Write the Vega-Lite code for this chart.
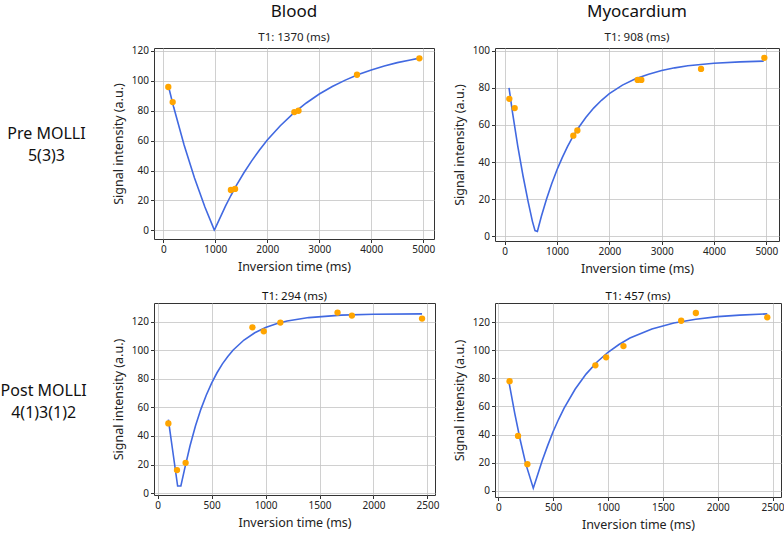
{
  "$schema": "https://vega.github.io/schema/vega-lite/v6.json",
  "padding": {"left": 0, "top": 2, "right": 0, "bottom": 0},
  "config": {
    "font": "Noto Sans",
    "view": {"stroke": "#333333", "strokeWidth": 1},
    "axis": {
      "grid": true, "gridColor": "#c4c4c4", "gridWidth": 0.8, "gridOpacity": 1, "tickCount": 12,
      "domain": false, "tickColor": "#333333", "tickSize": 3.5, "labelOverlap": false, "format": "d",
      "labelFontSize": 10, "labelColor": "#222222", "labelPadding": 2,
      "titleFontSize": 12.5, "titleFontWeight": "normal", "titleColor": "#222222"
    },
    "title": {"fontWeight": "normal", "color": "#111111", "subtitleColor": "#222222", "frame": "group", "anchor": "middle"},
    "concat": {"spacing": 14}
  },
  "datasets": {
    "p1pts": [
      {"t": 96, "s": 95.9}, {"t": 180, "s": 85.8}, {"t": 1300, "s": 27.0}, {"t": 1380, "s": 27.7},
      {"t": 2520, "s": 79.1}, {"t": 2600, "s": 80.0}, {"t": 3725, "s": 104.1}, {"t": 4925, "s": 115.1}
    ],
    "p1fit": [
      {"t": 100, "s": 96.2}, {"t": 200, "s": 82.3}, {"t": 400, "s": 57.1}, {"t": 600, "s": 35.0},
      {"t": 800, "s": 15.6}, {"t": 980, "s": 0.3}, {"t": 1000, "s": 1.5}, {"t": 1200, "s": 16.5},
      {"t": 1300, "s": 23.3}, {"t": 1400, "s": 29.7}, {"t": 1550, "s": 38.5}, {"t": 1700, "s": 46.5},
      {"t": 1850, "s": 53.7}, {"t": 2000, "s": 60.4}, {"t": 2250, "s": 70.0}, {"t": 2500, "s": 78.3},
      {"t": 2750, "s": 85.2}, {"t": 3000, "s": 91.2}, {"t": 3250, "s": 96.2}, {"t": 3500, "s": 100.5},
      {"t": 3750, "s": 104.2}, {"t": 4000, "s": 107.3}, {"t": 4250, "s": 110.0}, {"t": 4500, "s": 112.2},
      {"t": 4750, "s": 114.0}, {"t": 4950, "s": 115.4}
    ],
    "p2pts": [
      {"t": 89, "s": 74.1}, {"t": 191, "s": 69.1}, {"t": 1312, "s": 54.2}, {"t": 1389, "s": 57.0},
      {"t": 2541, "s": 84.3}, {"t": 2611, "s": 84.3}, {"t": 3752, "s": 90.2}, {"t": 4962, "s": 96.2}
    ],
    "p2fit": [
      {"t": 83, "s": 80.0}, {"t": 150, "s": 66.6}, {"t": 250, "s": 48.6}, {"t": 350, "s": 32.6},
      {"t": 450, "s": 18.4}, {"t": 530, "s": 8.0}, {"t": 580, "s": 3.0}, {"t": 625, "s": 2.5},
      {"t": 700, "s": 10.6}, {"t": 800, "s": 20.0}, {"t": 900, "s": 28.4}, {"t": 1000, "s": 35.8},
      {"t": 1100, "s": 42.4}, {"t": 1200, "s": 48.3}, {"t": 1300, "s": 53.5}, {"t": 1400, "s": 58.1},
      {"t": 1550, "s": 64.0}, {"t": 1700, "s": 69.1}, {"t": 1850, "s": 73.3}, {"t": 2000, "s": 76.9},
      {"t": 2250, "s": 81.5}, {"t": 2500, "s": 84.9}, {"t": 2750, "s": 87.4}, {"t": 3000, "s": 89.4},
      {"t": 3250, "s": 90.8}, {"t": 3500, "s": 91.9}, {"t": 4000, "s": 93.3}, {"t": 4500, "s": 94.0},
      {"t": 4950, "s": 94.4}
    ],
    "p3pts": [
      {"t": 99, "s": 48.8}, {"t": 179, "s": 16.1}, {"t": 259, "s": 21.2}, {"t": 878, "s": 116.0},
      {"t": 983, "s": 113.2}, {"t": 1137, "s": 119.3}, {"t": 1667, "s": 126.3}, {"t": 1800, "s": 124.2},
      {"t": 2450, "s": 122.1}
    ],
    "p3fit": [
      {"t": 99, "s": 51.5}, {"t": 140, "s": 29.3}, {"t": 185, "s": 5.0}, {"t": 215, "s": 5.0},
      {"t": 250, "s": 17.0}, {"t": 300, "s": 33.1}, {"t": 350, "s": 46.9}, {"t": 400, "s": 58.6},
      {"t": 450, "s": 68.5}, {"t": 500, "s": 77.0}, {"t": 550, "s": 84.2}, {"t": 600, "s": 90.4},
      {"t": 650, "s": 95.6}, {"t": 700, "s": 100.1}, {"t": 800, "s": 107.1}, {"t": 900, "s": 112.2},
      {"t": 1000, "s": 115.9}, {"t": 1100, "s": 118.5}, {"t": 1200, "s": 120.4}, {"t": 1400, "s": 122.8},
      {"t": 1700, "s": 124.5}, {"t": 2000, "s": 125.1}, {"t": 2450, "s": 125.4}
    ],
    "p4pts": [
      {"t": 103, "s": 78.0}, {"t": 180, "s": 39.1}, {"t": 265, "s": 19.0}, {"t": 885, "s": 89.2},
      {"t": 983, "s": 94.9}, {"t": 1141, "s": 102.9}, {"t": 1667, "s": 120.9}, {"t": 1801, "s": 126.4},
      {"t": 2452, "s": 123.3}
    ],
    "p4fit": [
      {"t": 97, "s": 77.5}, {"t": 150, "s": 55.1}, {"t": 200, "s": 36.2}, {"t": 250, "s": 19.4},
      {"t": 319, "s": 2.0}, {"t": 350, "s": 9.3}, {"t": 400, "s": 21.5}, {"t": 450, "s": 32.2},
      {"t": 500, "s": 42.2}, {"t": 550, "s": 50.9}, {"t": 600, "s": 58.8}, {"t": 700, "s": 72.2},
      {"t": 800, "s": 83.0}, {"t": 900, "s": 91.6}, {"t": 1000, "s": 98.5}, {"t": 1100, "s": 104.0},
      {"t": 1200, "s": 108.6}, {"t": 1400, "s": 115.1}, {"t": 1600, "s": 119.3}, {"t": 1800, "s": 122.0},
      {"t": 2000, "s": 123.8}, {"t": 2200, "s": 124.9}, {"t": 2452, "s": 125.8}
    ]
  },
  "vconcat": [
    {
      "title": {"text": ["Pre MOLLI", "5(3)3"], "orient": "left", "angle": 0, "fontSize": 16, "lineHeight": 22, "align": "center", "offset": -18, "dx": -5, "dy": -13, "frame": "bounds", "anchor": "middle"},
      "spacing": 16,
      "hconcat": [
        {
          "width": 280, "height": 191,
          "title": {"text": "Blood", "subtitle": "T1: 1370 (ms)", "fontSize": 17, "subtitleFontSize": 11.5, "subtitlePadding": 11, "offset": 1},
          "layer": [
            {
              "data": {"name": "p1fit"},
              "mark": {"type": "line", "color": "#4169e1", "strokeWidth": 1.6},
              "encoding": {
                "x": {"field": "t", "type": "quantitative", "scale": {"domain": [-179, 5206], "nice": false, "zero": false},
                      "axis": {"values": [0, 1000, 2000, 3000, 4000, 5000], "grid": true, "title": "Inversion time (ms)", "titlePadding": 6}},
                "y": {"field": "s", "type": "quantitative", "scale": {"domain": [-5.8, 122], "nice": false, "zero": false},
                      "axis": {"values": [0, 20, 40, 60, 80, 100, 120], "grid": true, "title": "Signal intensity (a.u.)", "titlePadding": 6}}
              }
            },
            {
              "data": {"name": "p1pts"},
              "mark": {"type": "circle", "color": "#ffa500", "opacity": 1, "size": 40},
              "encoding": {"x": {"field": "t", "type": "quantitative"}, "y": {"field": "s", "type": "quantitative"}}
            }
          ]
        },
        {
          "width": 284, "height": 193,
          "title": {"text": "Myocardium", "subtitle": "T1: 908 (ms)", "fontSize": 17, "subtitleFontSize": 11.5, "subtitlePadding": 11, "offset": 1},
          "layer": [
            {
              "data": {"name": "p2fit"},
              "mark": {"type": "line", "color": "#4169e1", "strokeWidth": 1.6},
              "encoding": {
                "x": {"field": "t", "type": "quantitative", "scale": {"domain": [-185, 5242], "nice": false, "zero": false},
                      "axis": {"values": [0, 1000, 2000, 3000, 4000, 5000], "grid": true, "title": "Inversion time (ms)", "titlePadding": 6}},
                "y": {"field": "s", "type": "quantitative", "scale": {"domain": [-2.6, 101.5], "nice": false, "zero": false},
                      "axis": {"values": [0, 20, 40, 60, 80, 100], "grid": true, "title": "Signal intensity (a.u.)", "titlePadding": 6}}
              }
            },
            {
              "data": {"name": "p2pts"},
              "mark": {"type": "circle", "color": "#ffa500", "opacity": 1, "size": 40},
              "encoding": {"x": {"field": "t", "type": "quantitative"}, "y": {"field": "s", "type": "quantitative"}}
            }
          ]
        }
      ]
    },
    {
      "title": {"text": ["Post MOLLI", "4(1)3(1)2"], "orient": "left", "angle": 0, "fontSize": 16, "lineHeight": 22, "align": "center", "offset": -18, "dy": -28, "frame": "bounds", "anchor": "middle"},
      "spacing": 12,
      "hconcat": [
        {
          "width": 281, "height": 192,
          "title": {"text": "T1: 294 (ms)", "fontSize": 11.5, "offset": 1},
          "layer": [
            {
              "data": {"name": "p3fit"},
              "mark": {"type": "line", "color": "#4169e1", "strokeWidth": 1.6},
              "encoding": {
                "x": {"field": "t", "type": "quantitative", "scale": {"domain": [-34, 2570], "nice": false, "zero": false},
                      "axis": {"values": [0, 500, 1000, 1500, 2000, 2500], "grid": true, "title": "Inversion time (ms)", "titlePadding": 6}},
                "y": {"field": "s", "type": "quantitative", "scale": {"domain": [-1.3, 133], "nice": false, "zero": false},
                      "axis": {"values": [0, 20, 40, 60, 80, 100, 120], "grid": true, "title": "Signal intensity (a.u.)", "titlePadding": 6}}
              }
            },
            {
              "data": {"name": "p3pts"},
              "mark": {"type": "circle", "color": "#ffa500", "opacity": 1, "size": 40},
              "encoding": {"x": {"field": "t", "type": "quantitative"}, "y": {"field": "s", "type": "quantitative"}}
            }
          ]
        },
        {
          "width": 286, "height": 194,
          "title": {"text": "T1: 457 (ms)", "fontSize": 11.5, "offset": 1},
          "layer": [
            {
              "data": {"name": "p4fit"},
              "mark": {"type": "line", "color": "#4169e1", "strokeWidth": 1.6},
              "encoding": {
                "x": {"field": "t", "type": "quantitative", "scale": {"domain": [-30, 2577], "nice": false, "zero": false},
                      "axis": {"values": [0, 500, 1000, 1500, 2000, 2500], "grid": true, "title": "Inversion time (ms)", "titlePadding": 6}},
                "y": {"field": "s", "type": "quantitative", "scale": {"domain": [-4.3, 133.5], "nice": false, "zero": false},
                      "axis": {"values": [0, 20, 40, 60, 80, 100, 120], "grid": true, "title": "Signal intensity (a.u.)", "titlePadding": 6}}
              }
            },
            {
              "data": {"name": "p4pts"},
              "mark": {"type": "circle", "color": "#ffa500", "opacity": 1, "size": 40},
              "encoding": {"x": {"field": "t", "type": "quantitative"}, "y": {"field": "s", "type": "quantitative"}}
            }
          ]
        }
      ]
    }
  ]
}
